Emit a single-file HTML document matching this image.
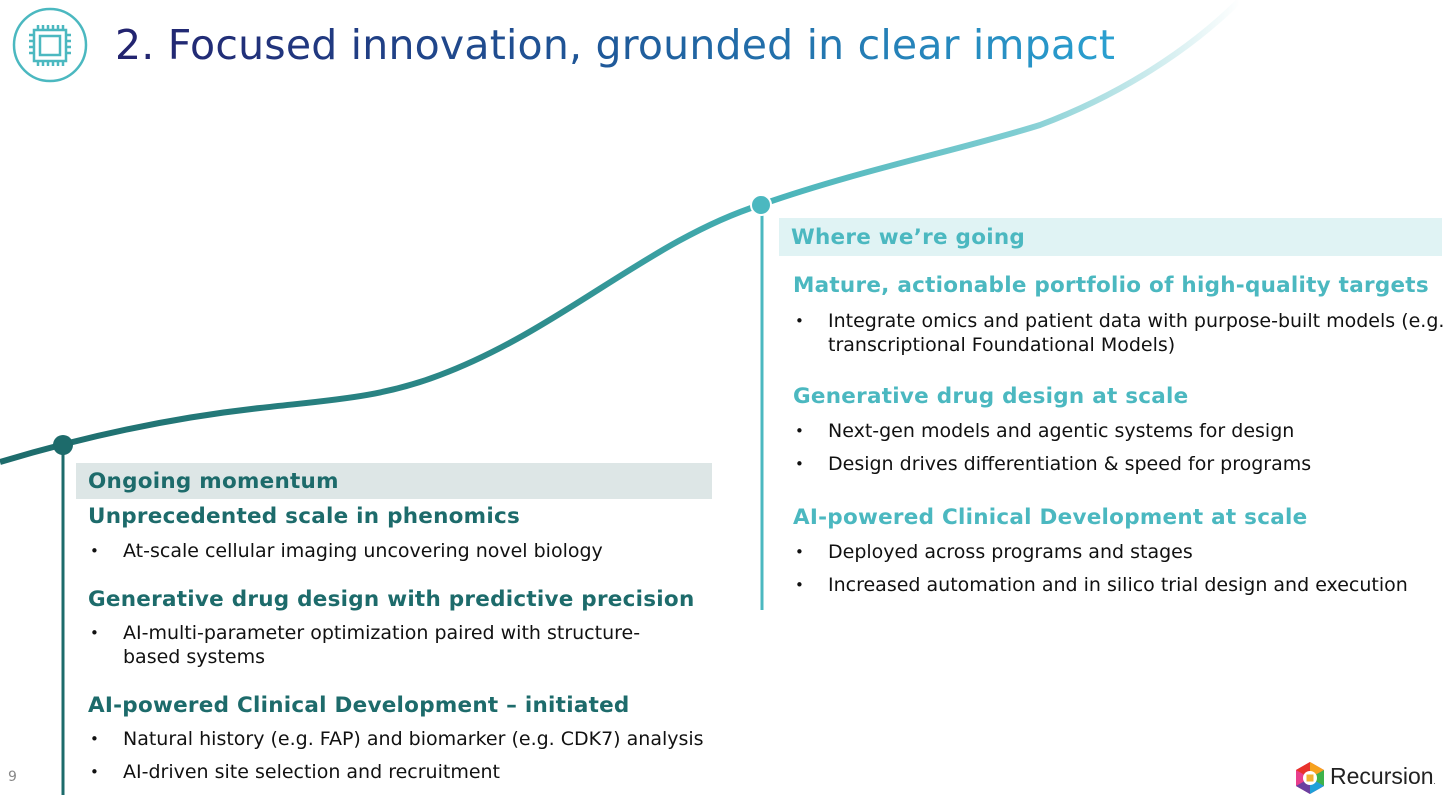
<!DOCTYPE html>
<html><head><meta charset="utf-8"><style>
body{margin:0;width:1456px;height:812px;background:#fff;overflow:hidden;position:relative;font-family:"DejaVu Sans",sans-serif}
.a{position:absolute;white-space:nowrap}
.h{font-weight:bold;font-size:21.5px;letter-spacing:0.25px}
.hl{color:#1d6b6b}.hr{color:#4bb8c0}
.b{font-size:19px;color:#111;line-height:24px}
.dot{position:absolute;font-size:15px;color:#111}
</style></head><body>
<svg width="1456" height="812" style="position:absolute;left:0;top:0">
<defs><linearGradient id="g" x1="0" y1="0" x2="1240" y2="0" gradientUnits="userSpaceOnUse">
<stop offset="0" stop-color="#1d6b6b"/><stop offset="0.45" stop-color="#2f8f8f"/><stop offset="0.62" stop-color="#48b3b8"/><stop offset="0.82" stop-color="#7fcdd2"/><stop offset="1" stop-color="#ffffff"/></linearGradient>
<linearGradient id="t" x1="0" x2="1"><stop offset="0" stop-color="#22226e"/><stop offset="0.5" stop-color="#1f5a9a"/><stop offset="1" stop-color="#2aa0d0"/></linearGradient></defs>
<path d="M0,462 C60,444 150,420 260,408 C330,400 380,398 440,375 C560,330 650,240 760,205 C860,170 960,150 1040,125 C1120,95 1190,50 1240,0" fill="none" stroke="url(#g)" stroke-width="6"/>
<line x1="63" y1="445" x2="63" y2="795" stroke="#1d6b6b" stroke-width="3"/>
<line x1="762" y1="205" x2="762" y2="610" stroke="#4bb8c0" stroke-width="3"/>
<circle cx="63" cy="445" r="10" fill="#1d6b6b"/>
<circle cx="761" cy="205" r="10" fill="#4bb8c0" stroke="#fff" stroke-width="2"/>
<circle cx="50" cy="45" r="36" fill="none" stroke="#4bb8c0" stroke-width="2.5"/>
<g stroke="#4bb8c0" stroke-width="2.5" fill="none"><rect x="34" y="30" width="32" height="31"/><rect x="40" y="36" width="20" height="19"/>
<path d="M38,30v-5M43,30v-5M48,30v-5M53,30v-5M58,30v-5M63,30v-5M38,61v5M43,61v5M48,61v5M53,61v5M58,61v5M63,61v5M34,35h-5M34,41h-5M34,47h-5M34,53h-5M66,35h5M66,41h5M66,47h5M66,53h5"/></g>
<text x="115" y="59" font-family="DejaVu Sans,sans-serif" font-size="41" fill="url(#t)" textLength="1000">2. Focused innovation, grounded in clear impact</text>
</svg>
<div class="a h hl" style="left:76px;top:463px;width:624px;height:36px;background:#dde6e6;padding-left:12px;line-height:37px">Ongoing momentum</div>
<div class="a h hr" style="left:779px;top:218px;width:651px;height:38px;background:#e0f3f4;padding-left:12px;line-height:40px">Where we’re going</div>

<div class="a h hl" style="left:88px;top:504px">Unprecedented scale in phenomics</div>
<div class="dot" style="left:90px;top:542px">•</div><div class="a b" style="left:123px;top:539px">At-scale cellular imaging uncovering novel biology</div>
<div class="a h hl" style="left:88px;top:587px">Generative drug design with predictive precision</div>
<div class="dot" style="left:90px;top:624px">•</div><div class="a b" style="left:123px;top:621px">AI-multi-parameter optimization paired with structure-<br>based systems</div>
<div class="a h hl" style="left:88px;top:693px">AI-powered Clinical Development – initiated</div>
<div class="dot" style="left:90px;top:730px">•</div><div class="a b" style="left:123px;top:727px">Natural history (e.g. FAP) and biomarker (e.g. CDK7) analysis</div>
<div class="dot" style="left:90px;top:763px">•</div><div class="a b" style="left:123px;top:760px">AI-driven site selection and recruitment</div>

<div class="a h hr" style="left:793px;top:273px">Mature, actionable portfolio of high-quality targets</div>
<div class="dot" style="left:795px;top:312px">•</div><div class="a b" style="left:828px;top:309px">Integrate omics and patient data with purpose-built models (e.g.<br>transcriptional Foundational Models)</div>
<div class="a h hr" style="left:793px;top:384px">Generative drug design at scale</div>
<div class="dot" style="left:795px;top:422px">•</div><div class="a b" style="left:828px;top:419px">Next-gen models and agentic systems for design</div>
<div class="dot" style="left:795px;top:455px">•</div><div class="a b" style="left:828px;top:452px">Design drives differentiation &amp; speed for programs</div>
<div class="a h hr" style="left:793px;top:505px">AI-powered Clinical Development at scale</div>
<div class="dot" style="left:795px;top:543px">•</div><div class="a b" style="left:828px;top:540px">Deployed across programs and stages</div>
<div class="dot" style="left:795px;top:576px">•</div><div class="a b" style="left:828px;top:573px">Increased automation and in silico trial design and execution</div>

<div class="a" style="left:8px;top:769px;font-size:14px;color:#888">9</div>
<svg width="32" height="34" style="position:absolute;left:1294px;top:761px" viewBox="0 0 32 34">
<polygon points="16,1 30,9 30,25 16,33 2,25 2,9" fill="#e83e8c"/>
<polygon points="16,1 30,9 16,17" fill="#f6a21e"/><polygon points="30,9 30,25 16,17" fill="#3db34a"/>
<polygon points="30,25 16,33 16,17" fill="#1ea0d8"/><polygon points="16,33 2,25 16,17" fill="#6a3fa0"/>
<polygon points="2,9 16,1 16,17" fill="#e8322b"/>
<circle cx="16" cy="17" r="7" fill="#fff"/><rect x="12.5" y="13.5" width="7" height="7" fill="#f2b233"/></svg>
<div class="a" style="left:1330px;top:763px;font-size:23px;color:#222;font-family:'Liberation Sans',sans-serif">Recursion<span style="font-size:8px">.</span></div>
</body></html>
